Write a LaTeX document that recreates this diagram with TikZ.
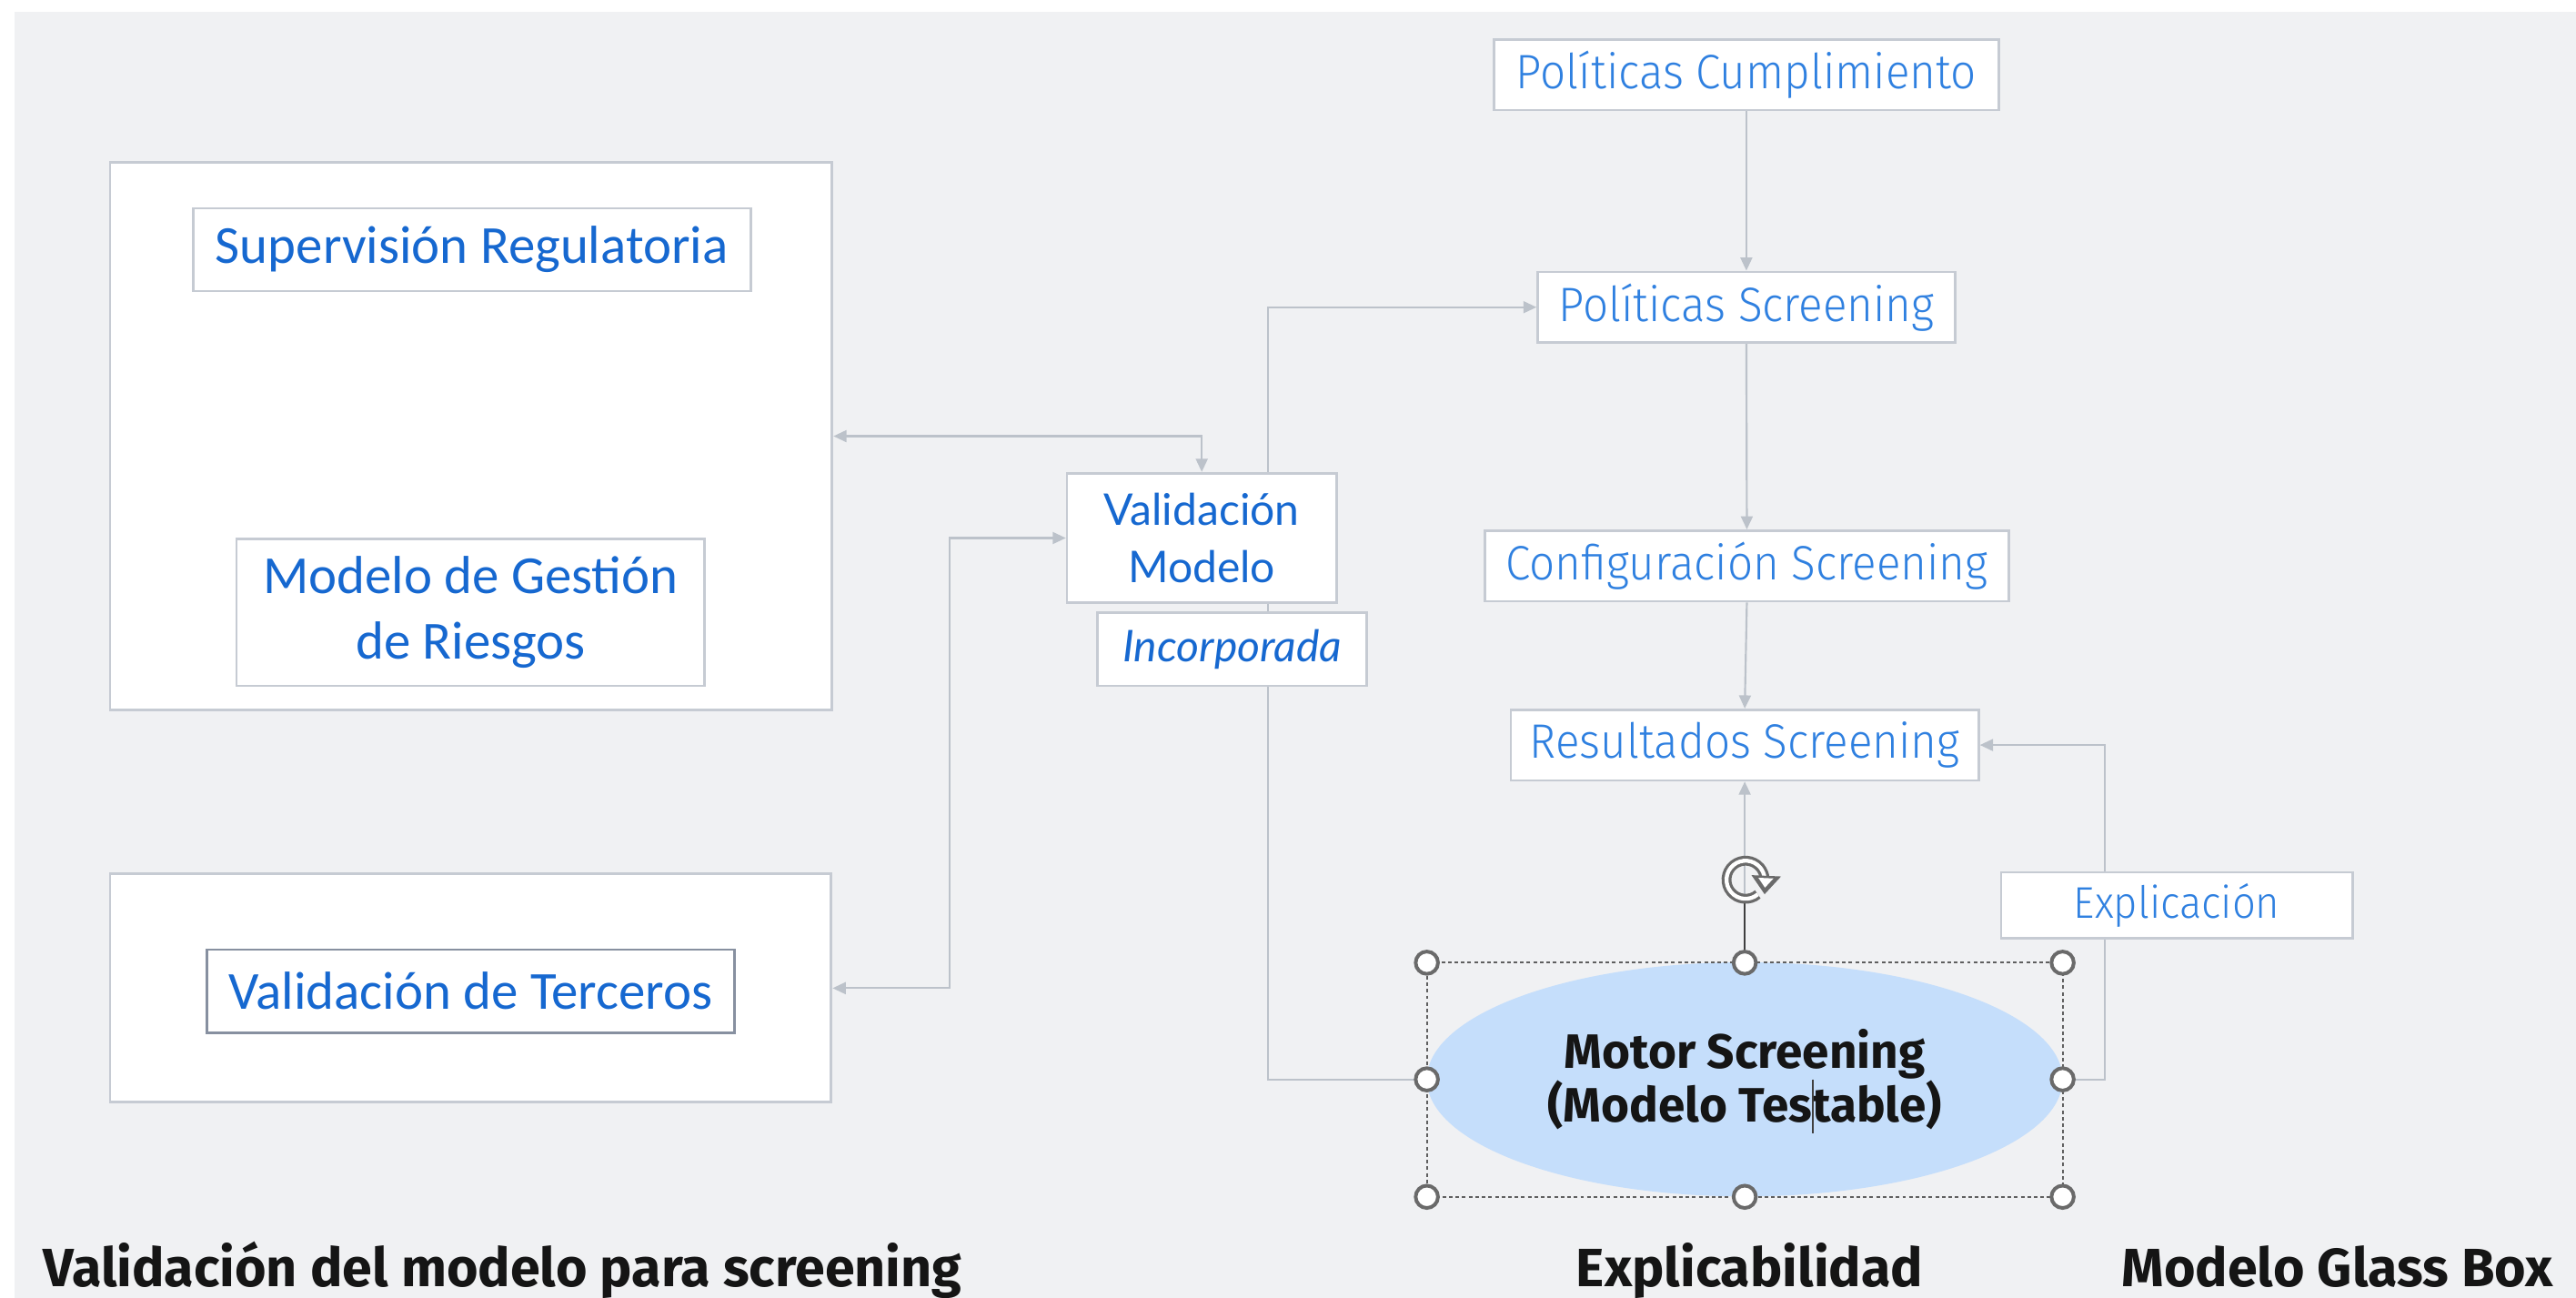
\documentclass[tikz,border=0pt]{standalone}
\usepackage{fontspec}
\usetikzlibrary{arrows.meta,shapes.geometric}

\newfontfamily\calfont{Carlito}
\newfontfamily\lightfont{Fira Sans Light}[FakeStretch=0.93]
\newfontfamily\latofont{Lato}
\newfontfamily\headfont{Fira Sans}

\definecolor{canvas}{HTML}{F0F1F3}
\definecolor{boxline}{HTML}{C6CBD3}
\definecolor{wirec}{HTML}{BCC2CA}
\definecolor{darkline}{HTML}{8790A0}
\definecolor{blueA}{HTML}{1668D0}
\definecolor{blueB}{HTML}{2F80E0}
\definecolor{ellblue}{HTML}{C5DEFB}
\definecolor{inkc}{HTML}{151515}
\definecolor{handlec}{HTML}{6A6A6A}

\pgfdeclarelayer{canvaslayer}
\pgfdeclarelayer{wires}
\pgfsetlayers{canvaslayer,wires,main}

\begin{document}
\begin{tikzpicture}[x=0.5pt,y=-0.5pt,
  box/.style={draw=boxline, fill=white, line width=0.75pt, inner sep=0pt, align=center},
  panel/.style={draw=boxline, fill=white, line width=0.8pt, inner sep=0pt},
  leftlbl/.style={box, text=blueA, font={\calfont\fontsize{16.3pt}{19.75pt}\selectfont}},
  rightlbl/.style={box, text=blueB, font={\lightfont\fontsize{14.7pt}{17pt}\selectfont}},
  midlbl/.style={box, text=blueA, font={\latofont\fontsize{13.3pt}{17.3pt}\selectfont}},
  wire/.style={draw=wirec, line width=0.6pt},
  tipend/.style={-{Triangle[length=4pt,width=3.6pt]}},
  tipboth/.style={{Triangle[length=4pt,width=3.6pt]}-{Triangle[length=4pt,width=3.6pt]}},
  caption/.style={inner sep=0pt, anchor=base, text=inkc, font={\headfont\bfseries\fontsize{16.4pt}{19pt}\selectfont}},
  handle/.style={draw=handlec, fill=white, line width=1.1pt}
]
\useasboundingbox (0,0) rectangle (1568,790);

\begin{pgfonlayer}{canvaslayer}
  \fill[white] (0,0) rectangle (1568,790);
  \fill[canvas] (9,7) rectangle (1568,790);
\end{pgfonlayer}

% left panels
\node[panel, minimum width=219.75pt, minimum height=166.5pt] (big1) at (286.75,265.5) {};
\node[panel, minimum width=219.5pt, minimum height=69.5pt] (big2) at (286.5,601.5) {};

\node[leftlbl, minimum width=169.75pt, minimum height=25.15pt] (sup) at (287.25,152) {Supervisión Regulatoria};
\node[leftlbl, minimum width=142.5pt, minimum height=44.75pt] (mgr) at (286.5,372.75) {Modelo de Gestión\\de Riesgos};
\node[leftlbl, draw=darkline, minimum width=160.5pt, minimum height=25.25pt] (vter) at (286.5,603.25) {Validación de Terceros};

% validation column
\node[midlbl, minimum width=82pt, minimum height=39.5pt] (vmod) at (731.5,327.5) {Validación\\Modelo};
\node[midlbl, font={\latofont\itshape\fontsize{13.3pt}{16pt}\selectfont}, minimum width=82pt, minimum height=22.25pt] (inc) at (750,395.25) {Incorporada};

% screening chain
\node[rightlbl, minimum width=153.5pt, minimum height=21.5pt] (pcum) at (1063,45.5) {Políticas Cumplimiento};
\node[rightlbl, minimum width=127pt, minimum height=21.5pt] (pscr) at (1063,187) {Políticas Screening};
\node[rightlbl, minimum width=159.3pt, minimum height=21.5pt] (conf) at (1063.3,344.5) {Configuración Screening};
\node[rightlbl, minimum width=142.4pt, minimum height=21.5pt] (res) at (1062,453.5) {Resultados Screening};

% engine
\node[ellipse, fill=ellblue, draw=none, inner sep=0pt, minimum width=193.5pt, minimum height=71.25pt,
      align=center, text=inkc, font={\headfont\bfseries\fontsize{14.7pt}{16.5pt}\selectfont}] (motor) at (1062,657) {Motor Screening\\(Modelo Testable)};

\coordinate (j2) at (578,601.5);
\coordinate (j3) at (772,187);
\coordinate (j4) at (1281,657);

\begin{pgfonlayer}{wires}
  \draw[wire, tipend] (sup.south) -- (mgr.north);
  \draw[wire, tipboth] (big1.east) -| (vmod.north);
  \draw[wire, tipboth] (big2.east) -- (j2) |- (vmod.west);
  \draw[wire, tipend] (motor.west) -| (j3) -- (pscr.west);
  \draw[wire, tipend] (pcum.south) -- (pscr.north);
  \draw[wire, tipend] (pscr.south) -- (conf.north);
  \draw[wire, tipend] (conf.south) -- (res.north);
  \draw[wire, tipend] (motor.north) -- (res.south);
  \draw[wire, tipend] (motor.east) -- (j4) |- (res.east);
\end{pgfonlayer}

\node[rightlbl, font={\lightfont\fontsize{13.5pt}{15pt}\selectfont}, minimum width=107pt, minimum height=20pt] (expl) at (1325,551) {Explicación};

% selection frame around the engine
\draw[handlec!90!black, line width=0.55pt, dash pattern=on 1.1pt off 0.9pt] (868.5,586) rectangle (1255.5,728.5);
\draw[handlec!60!black, line width=0.7pt] (1062,549) -- (1062,586);
\foreach \hx/\hy in {868.5/586, 1062/586, 1255.5/586, 868.5/657, 1255.5/657, 868.5/728.5, 1062/728.5, 1255.5/728.5}
  \draw[handle] (\hx,\hy) circle[radius=6.8];

% rotation grip
\begin{scope}[shift={(1062.5,535.5)}, x=1pt, y=1pt]
  \draw[handlec, line width=3pt] (310:5.8) arc[start angle=310, end angle=5, radius=5.8];
  \draw[white, line width=1.2pt] (310:5.8) arc[start angle=310, end angle=5, radius=5.8];
  \fill[handlec] (1.8,1.4) -- (10.8,1.0) -- (5.8,-4.4) -- cycle;
  \fill[white] (3.9,0.6) -- (8.5,0.4) -- (5.9,-2.4) -- cycle;
\end{scope}

% text cursor
\draw[black!75, line width=0.5pt] (1103.6,657) -- (1103.6,690);

% captions
\node[caption, anchor=base west] (capA) at (26,783) {Validación del modelo para screening};
\node[caption] (capB) at (1065,783) {Explicabilidad};
\node[caption, anchor=base west] (capC) at (1291,783) {Modelo Glass Box};
\end{tikzpicture}
\end{document}
